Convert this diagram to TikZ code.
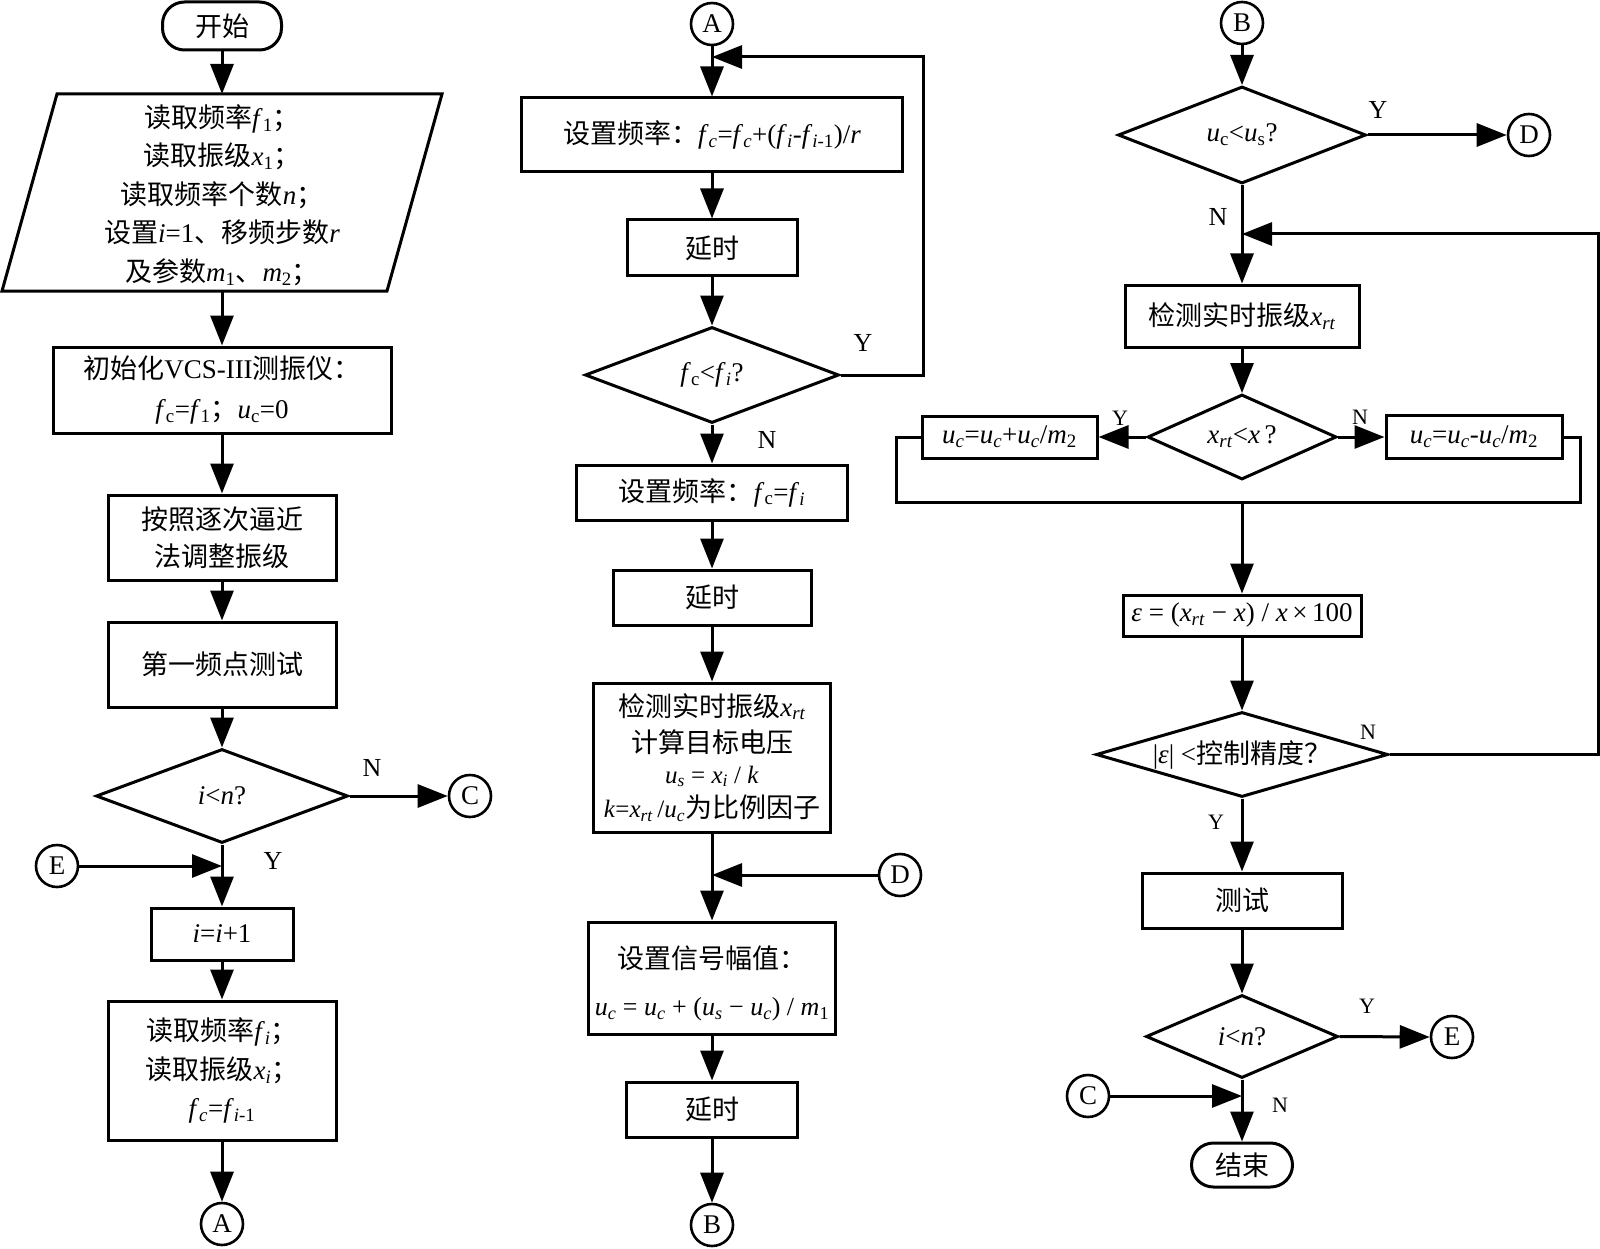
\documentclass[tikz,border=0pt]{standalone}
\usepackage{fontspec}
\setmainfont{Liberation Serif}
\newfontfamily\cjk{Noto Sans CJK SC}
\usetikzlibrary{arrows.meta,shapes.geometric}
\newcommand\zh[1]{{\cjk #1}}
\newcommand\vi[1]{\textit{#1}}
\newcommand\sbs[1]{\textsubscript{#1}}
\newcommand\fsA{\fontsize{27pt}{38.5pt}\selectfont}
\newcommand\fsB{\fontsize{27pt}{38.5pt}\selectfont}
\newcommand\fsC{\fontsize{25pt}{30pt}\selectfont}
\newcommand\fsD{\fontsize{26pt}{30pt}\selectfont}
\newcommand\fsL{\fontsize{26pt}{30pt}\selectfont}
\newcommand\fsS{\fontsize{22pt}{26pt}\selectfont}
\begin{document}
\begin{tikzpicture}[x=1pt,y=-1pt,
  every node/.style={inner sep=0pt},
  box/.style={draw,line width=3pt,rectangle,align=center,font=\fsB},
  term/.style={box,rounded corners=22pt},
  dec/.style={draw,line width=3pt,diamond,inner sep=0pt},
  conn/.style={draw,line width=2.6pt,circle,minimum size=42pt,font=\fsA},
  arr/.style={line width=3pt,-{Triangle[length=30pt,width=23pt]}},
  ln/.style={line width=3pt},
  lab/.style={font=\fsL},
  labs/.style={font=\fsS},
  txt/.style={font=\fsA,align=center}]
\useasboundingbox (0,0) rectangle (1600,1249);

% ---------------- left column ----------------
\node[term,minimum width=119pt,minimum height=48pt] (start) at (222,26) {\zh{开始}};
\draw[ln,line join=miter] (57,94) -- (442,94) -- (387,291) -- (2,291) -- cycle;
\coordinate (pTop) at (222,94);
\coordinate (pBot) at (222,291);
\node[txt] (ptext) at (222,195) {\zh{读取频率}\vi{f}\sbs{1}\zh{；}\\
\zh{读取振级}\vi{x}\sbs{1}\zh{；}\\
\zh{读取频率个数}\vi{n}\zh{；}\\
\zh{设置}\vi{i}=1\zh{、移频步数}\vi{r}\\
\zh{及参数}\vi{m}\sbs{1}\zh{、}\vi{m}\sbs{2}\zh{；}};
\node[box,font=\fontsize{27pt}{40pt}\selectfont,minimum width=338pt,minimum height=86pt] (init) at (222,390)
 {\zh{初始化}VCS-III\zh{测振仪：}\\ \vi{f}\sbs{c}=\vi{f}\sbs{1}\zh{；}\vi{u}\sbs{c}=0};
\node[box,font=\fontsize{27pt}{37pt}\selectfont,minimum width=228pt,minimum height=85pt] (approx) at (222,537.5) {\zh{按照逐次逼近}\\\zh{法调整振级}};
\node[box,minimum width=228pt,minimum height=85pt] (first) at (222,664.5) {\zh{第一频点测试}};
\node[dec,minimum width=252pt,minimum height=94pt] (d1) at (222,796) {};
\node[txt] (d1t) at (d1) {\vi{i}<\vi{n}?};
\node[conn] (C1) at (470,796) {C};
\node[conn] (E1) at (57,866) {E};
\coordinate (j1) at (222,866);
\node[box,minimum width=142pt,minimum height=52pt] (inc) at (222,934) {\vi{i}=\vi{i}+1};
\node[box,minimum width=228pt,minimum height=139pt] (read) at (222,1070.5)
 {\zh{读取频率}\vi{f}\sbs{\vi{i}}\zh{；}\\\zh{读取振级}\vi{x}\sbs{\vi{i}}\zh{；}\\\vi{f}\sbs{\vi{c}}=\vi{f}\sbs{\vi{i}-1}};
\node[conn] (A1) at (222,1224) {A};
\node[lab] (N1) at (372,768) {N};
\node[lab] (Y1) at (273,861) {Y};

\draw[arr] (start.south) -- (pTop);
\draw[arr] (pBot) -- (init.north);
\draw[arr] (init.south) -- (approx.north);
\draw[arr] (approx.south) -- (first.north);
\draw[arr] (first.south) -- (d1.north);
\draw[arr] (d1.east) -- (C1.west);
\draw[arr] (d1.south) -- (inc.north);
\draw[arr] (E1.east) -- (j1);
\draw[arr] (inc.south) -- (read.north);
\draw[arr] (read.south) -- (A1.north);

% ---------------- middle column ----------------
\node[conn] (A2) at (712,24) {A};
\node[box,minimum width=381pt,minimum height=74pt] (setf) at (712,135)
 {\zh{设置频率：}\vi{f}\sbs{\vi{c}}=\vi{f}\sbs{\vi{c}}+(\vi{f}\sbs{\vi{i}}-\vi{f}\sbs{\vi{i}-1})/\vi{r}};
\node[box,minimum width=170pt,minimum height=56pt] (dl1) at (712,248) {\zh{延时}};
\node[dec,minimum width=254pt,minimum height=96pt] (d2) at (712,375) {};
\node[txt] (d2t) at (d2) {\vi{f}\sbs{c}<\vi{f}\sbs{\vi{i}}?};
\coordinate (m1) at (923,57);
\coordinate (j2) at (712,57);
\node[box,minimum width=271pt,minimum height=55pt] (setfi) at (712,492.5) {\zh{设置频率：}\vi{f}\sbs{c}=\vi{f}\sbs{\vi{i}}};
\node[box,minimum width=198pt,minimum height=55pt] (dl2) at (712,597.5) {\zh{延时}};
\node[box,minimum width=237pt,minimum height=149pt] (det) at (712,757.5)
 {\zh{检测实时振级}\vi{x}\sbs{\vi{rt}}\\[-2pt]
  \zh{计算目标电压}\\[-8pt]
  {\fsC\vi{u}\sbs{\vi{s}} = \vi{x}\sbs{\vi{i}} / \vi{k}}\\[-4pt]
  {\fsC\vi{k}=\vi{x}\sbs{\vi{rt}}\,/\vi{u}\sbs{\vi{c}}}\zh{为比例因子}};
\node[conn] (D2) at (900,875) {D};
\coordinate (j5) at (712,875);
\node[box,minimum width=247pt,minimum height=112pt] (amp) at (712,978)
 {\rule{0pt}{34pt}\zh{设置信号幅值：}\\[8pt]
  {\fsD\vi{u}\sbs{\vi{c}} = \vi{u}\sbs{\vi{c}} + (\vi{u}\sbs{\vi{s}} − \vi{u}\sbs{\vi{c}}) / \vi{m}\sbs{1}}};
\node[box,minimum width=171pt,minimum height=55pt] (dl3) at (712,1109.5) {\zh{延时}};
\node[conn] (B2) at (712,1225) {B};
\node[lab] (Y2) at (863,343) {Y};
\node[lab] (N2) at (767,440) {N};

\draw[arr] (A2.south) -- (setf.north);
\draw[arr] (setf.south) -- (dl1.north);
\draw[arr] (dl1.south) -- (d2.north);
\draw[arr] (d2.east) -| (m1) -- (j2);
\draw[arr] (d2.south) -- (setfi.north);
\draw[arr] (setfi.south) -- (dl2.north);
\draw[arr] (dl2.south) -- (det.north);
\draw[arr] (det.south) -- (amp.north);
\draw[arr] (D2.west) -- (j5);
\draw[arr] (amp.south) -- (dl3.north);
\draw[arr] (dl3.south) -- (B2.north);

% ---------------- right column ----------------
\node[conn] (B3) at (1242,23) {B};
\node[dec,minimum width=248pt,minimum height=97pt] (d3) at (1242,135) {};
\node[txt] (d3t) at (d3) {\vi{u}\sbs{c}<\vi{u}\sbs{s}?};
\node[conn] (D3) at (1529,135) {D};
\node[lab] (Y3) at (1378,110) {Y};
\node[lab] (N3) at (1218,217) {N};
\coordinate (j3) at (1242,234);
\coordinate (m2) at (1598,234);
\node[box,minimum width=234pt,minimum height=62pt] (det2) at (1242,316) {\zh{检测实时振级}\vi{x}\sbs{\vi{rt}}};
\node[dec,minimum width=189pt,minimum height=85pt] (d4) at (1242,437) {};
\node[txt] (d4t) at (d4) {\vi{x}\sbs{\vi{rt}}<\vi{x}\,?};
\node[box,minimum width=175pt,minimum height=42pt] (ua) at (1009.5,437)
 {\vi{u}\sbs{\vi{c}}=\vi{u}\sbs{\vi{c}}+\vi{u}\sbs{\vi{c}}/\vi{m}\sbs{2}};
\node[box,minimum width=176pt,minimum height=43pt] (ub) at (1474,437)
 {\vi{u}\sbs{\vi{c}}=\vi{u}\sbs{\vi{c}}-\vi{u}\sbs{\vi{c}}/\vi{m}\sbs{2}};
\node[labs] (Y4) at (1120,418) {Y};
\node[labs] (N4) at (1360,417) {N};
\coordinate (o1) at (896,502);
\coordinate (o2) at (1580,502);
\coordinate (j6) at (1242,502);
\node[box,minimum width=238pt,minimum height=41pt,font=\fontsize{27pt}{30pt}\selectfont] (eps) at (1242,615.5)
 {\vi{ε} = (\vi{x}\sbs{\vi{rt}} − \vi{x}) / \vi{x}\,×\,100};
\node[dec,minimum width=292pt,minimum height=85pt] (d5) at (1242,754.5) {};
\node[txt] (d5t) at (d5) {|\vi{ε}| <\zh{控制精度？}};
\node[labs] (N5) at (1368,732) {N};
\node[labs] (Y5) at (1216,822) {Y};
\node[box,minimum width=200pt,minimum height=55pt] (test) at (1242,900.5) {\zh{测试}};
\node[dec,minimum width=192pt,minimum height=83pt] (d6) at (1242,1036.5) {};
\node[txt] (d6t) at (d6) {\vi{i}<\vi{n}?};
\node[conn] (E6) at (1452,1037) {E};
\node[conn] (C6) at (1088,1096) {C};
\coordinate (j4) at (1242,1096);
\node[labs] (Y6) at (1367,1006) {Y};
\node[labs] (N6) at (1280,1105) {N};
\node[term,minimum width=101pt,minimum height=44pt] (end) at (1242,1165) {\zh{结束}};

\draw[arr] (B3.south) -- (d3.north);
\draw[arr] (d3.east) -- (D3.west);
\draw[arr] (d3.south) -- (det2.north);
\draw[arr] (d5.east) -| (m2) -- (j3);
\draw[arr] (det2.south) -- (d4.north);
\draw[arr] (d4.west) -- (ua.east);
\draw[arr] (d4.east) -- (ub.west);
\draw[ln,line join=miter] (ua.west) -| (o1) -- (o2) |- (ub.east);
\draw[arr] (j6) -- (eps.north);
\draw[arr] (eps.south) -- (d5.north);
\draw[arr] (d5.south) -- (test.north);
\draw[arr] (test.south) -- (d6.north);
\draw[arr] (d6.east) -- (E6.west);
\draw[arr] (C6.east) -- (j4);
\draw[arr] (d6.south) -- (end.north);
\end{tikzpicture}
\end{document}
